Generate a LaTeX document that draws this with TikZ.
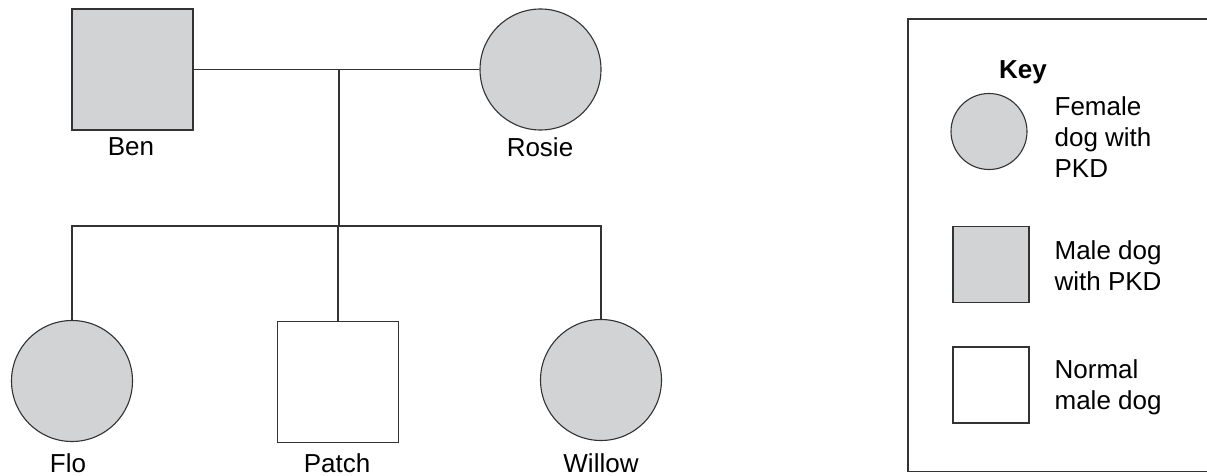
\documentclass[tikz,border=0pt]{standalone}
\usepackage{fontspec}
\setmainfont{Liberation Sans}
\definecolor{pkdgrey}{HTML}{D1D3D4}
\definecolor{linegrey}{HTML}{333333}
\tikzset{
  dog/.style={draw=linegrey, line width=1.1pt, inner sep=0pt, minimum size=121pt},
  female/.style={dog, circle, fill=pkdgrey},
  male/.style={dog, rectangle, fill=pkdgrey},
  normalmale/.style={dog, rectangle, fill=white},
  keysym/.style={minimum size=76pt},
  doglabel/.style={font=\fontsize{26}{31}\selectfont},
  keytext/.style={font=\fontsize{26}{31}\selectfont, align=left, anchor=west, inner sep=0pt}
}
\begin{document}
\begin{tikzpicture}[x=1pt, y=-1pt, line width=1.2pt, draw=linegrey]
\useasboundingbox (0,0) rectangle (1207,476);
% parents
\node[male] (ben) at (132.5,69.5){};
\node[female] (rosie) at (540.5,69.5){};
\node[doglabel] (benlbl) at (131,147){Ben};
\node[doglabel] (rosielbl) at (540,147){Rosie};
\coordinate (mate) at (339,69.5);
\coordinate (sib) at (339,226);
\draw[linegrey](ben) -- (rosie);
\draw[linegrey](mate) -- (sib);
% offspring
\node[female] (flo) at (72,381){};
\node[normalmale] (patch) at (338,382){};
\node[female] (willow) at (601,380){};
\node[doglabel] (flolbl) at (68,463){Flo};
\node[doglabel] (patchlbl) at (337,463){Patch};
\node[doglabel] (willowlbl) at (601,463){Willow};
\draw[linegrey](flo) |- (sib) -| (willow);
\draw[linegrey](sib) -| (patch);
% key
\draw[linegrey](1207,19) -| (908,471.5) -- (1207,471.5);
\node[font=\fontsize{26}{31}\selectfont\bfseries] (key) at (1023,72){Key};
\node[female, keysym] (kfemale) at (989,131.5){};
\node[male, keysym] (kmale) at (991,264.5){};
\node[normalmale, keysym] (knormal) at (991,385){};
\node[keytext] (kfemalelbl) at (1054,137){Female\\dog with\\PKD};
\node[keytext] (kmalelbl) at (1054,266){Male dog\\with PKD};
\node[keytext] (knormallbl) at (1054,387){Normal\\male dog};
\end{tikzpicture}
\end{document}
